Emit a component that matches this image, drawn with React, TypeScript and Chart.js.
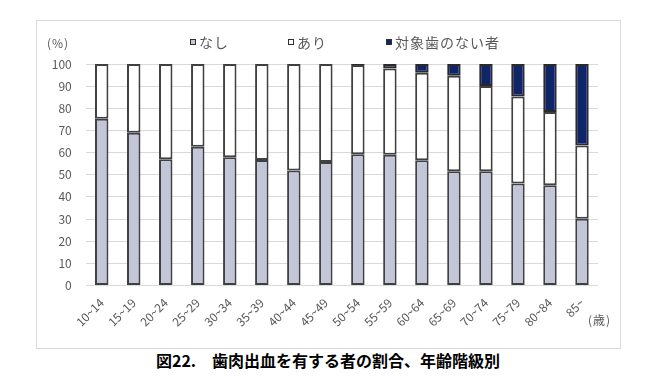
import React, { useEffect, useRef } from "react";
import { Chart, registerables } from "chart.js";

Chart.register(...registerables);

const categories = ["10~14", "15~19", "20~24", "25~29", "30~34", "35~39", "40~44", "45~49", "50~54", "55~59", "60~64", "65~69", "70~74", "75~79", "80~84", "85~"];
const seriesNames = ["なし", "あり", "対象歯のない者"];
const nashi = [75.3, 69.0, 57.0, 62.6, 57.9, 56.7, 51.9, 55.8, 59.2, 59.0, 56.5, 51.6, 51.6, 46.0, 45.3, 30.1];
const ari = [24.7, 31.0, 43.0, 37.4, 42.1, 43.3, 48.1, 44.2, 40.3, 39.0, 39.6, 43.1, 38.5, 39.3, 33.0, 33.1];
const noTeeth = [null, null, null, null, null, null, null, null, 0.5, 2.0, 3.9, 5.3, 9.9, 14.7, 21.7, 36.8];
const yTickValues = [0, 10, 20, 30, 40, 50, 60, 70, 80, 90, 100];
const yUnit = "(%)";
const xUnit = "(歳)";
const caption = "図22.　歯肉出血を有する者の割合、年齢階級別";

const FONT = "'Noto Sans CJK JP', 'Noto Sans', sans-serif";
const TEXT = "#595959";

const extrasPlugin = {
  id: "extras",
  afterDraw(chart: any) {
    const ctx = chart.ctx;
    const area = chart.chartArea;
    ctx.save();
    ctx.fillStyle = TEXT;
    ctx.textBaseline = "middle";
    ctx.font = `12px ${FONT}`;
    ctx.textAlign = "left";
    (ctx as any).letterSpacing = "1px";
    ctx.fillText(yUnit, 10, 22);
    ctx.fillText(xUnit, area.right - 10, 299);
    // legend
    ctx.font = `14px ${FONT}`;
    (ctx as any).letterSpacing = "1px";
    let x = 153;
    const y = 21;
    chart.data.datasets.forEach((ds: any) => {
      const box = 6;
      ctx.fillStyle = ds.backgroundColor;
      ctx.fillRect(x, y - box / 2, box, box);
      ctx.strokeStyle = "#303030";
      ctx.lineWidth = 1;
      ctx.strokeRect(x + 0.5, y - box / 2 + 0.5, box - 1, box - 1);
      ctx.fillStyle = TEXT;
      const tx = x + box + 3;
      ctx.fillText(ds.label, tx, y + 1);
      const w = ctx.measureText(ds.label).width;
      x = tx + w + 59;
    });
    ctx.restore();
  },
};

export default function App() {
  const ref = useRef<HTMLCanvasElement | null>(null);
  useEffect(() => {
    if (!ref.current) return;
    const chart = new Chart(ref.current, {
      type: "bar",
      data: {
        labels: categories,
        datasets: [
          { label: seriesNames[0], data: nashi, backgroundColor: "#c2c6d8", borderColor: "#404040", borderWidth: 2, borderSkipped: false },
          { label: seriesNames[1], data: ari, backgroundColor: "#ffffff", borderColor: "#404040", borderWidth: 2, borderSkipped: false },
          { label: seriesNames[2], data: noTeeth as any, backgroundColor: "#10246a", borderColor: "#2a2a2a", borderWidth: 2, borderSkipped: false },
        ],
      },
      options: {
        animation: false,
        responsive: false,
        maintainAspectRatio: false,
        layout: { padding: { top: 43, right: 22, left: 0, bottom: 0 } },
        datasets: { bar: { barPercentage: 0.42, categoryPercentage: 1 } },
        plugins: { legend: { display: false }, tooltip: { enabled: false } },
        scales: {
          x: {
            stacked: true,
            grid: { display: false },
            border: { display: false },
            ticks: { color: TEXT, font: { size: 12, family: FONT }, minRotation: 45, maxRotation: 45, padding: 2 },
            afterFit: (s: any) => { s.height = 62.5; },
          },
          y: {
            stacked: true,
            min: 0,
            max: 100,
            afterBuildTicks: (s: any) => { s.ticks = yTickValues.map((v) => ({ value: v })); },
            grid: { color: "#d9d9d9", drawTicks: false },
            border: { display: false },
            ticks: { color: TEXT, font: { size: 12, family: FONT }, padding: 14 },
            afterFit: (s: any) => { s.width = 48.7; },
          },
        },
      },
      plugins: [extrasPlugin],
    });
    return () => chart.destroy();
  }, []);
  return (
    <div>
      <div style={{ position: "absolute", left: 36, top: 20, width: 583, height: 327, border: "1px solid #d9d9d9", background: "#fff" }}>
        <canvas ref={ref} width={583} height={327} style={{ display: "block", width: 583, height: 327 }} />
      </div>
      <div style={{ position: "absolute", left: 78, top: 349, width: 500, textAlign: "center", fontFamily: FONT, fontWeight: 700, fontSize: 16, lineHeight: "22px", color: "#000", whiteSpace: "nowrap" }}>
        {caption}
      </div>
    </div>
  );
}
